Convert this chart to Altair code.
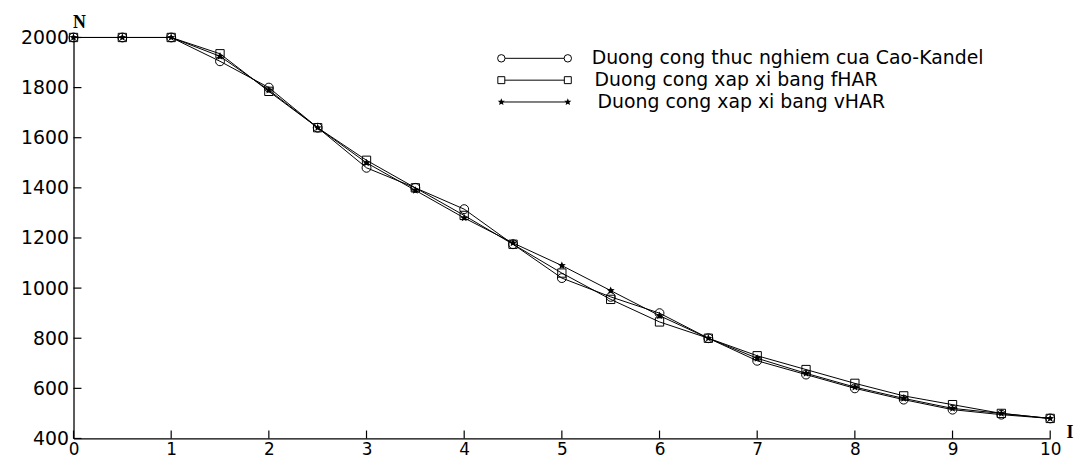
import math
import altair as alt
import pandas as pd

# ---- data ----
I_vals = [0, 0.5, 1, 1.5, 2, 2.5, 3, 3.5, 4, 4.5, 5, 5.5, 6, 6.5, 7, 7.5, 8, 8.5, 9, 9.5, 10]
cao_kandel = [2000, 2000, 2000, 1905, 1800, 1640, 1480, 1400, 1315, 1175, 1040, 965, 900, 800, 710, 655, 600, 555, 515, 495, 480]
fhar = [2000, 2000, 2000, 1935, 1785, 1640, 1510, 1400, 1290, 1175, 1060, 955, 865, 800, 730, 675, 620, 570, 535, 500, 480]
vhar = [2000, 2000, 2000, 1925, 1790, 1640, 1500, 1390, 1280, 1180, 1090, 990, 890, 800, 720, 660, 605, 560, 520, 500, 480]
series_names = [
    "Duong cong thuc nghiem cua Cao-Kandel",
    "Duong cong xap xi bang fHAR",
    "Duong cong xap xi bang vHAR",
]
x_ticks = [0, 1, 2, 3, 4, 5, 6, 7, 8, 9, 10]
y_ticks = [400, 600, 800, 1000, 1200, 1400, 1600, 1800, 2000]

rows = []
for name, vals in zip(series_names, [cao_kandel, fhar, vhar]):
    for i, v in zip(I_vals, vals):
        rows.append({"I": i, "N": v, "series": name})
df = pd.DataFrame(rows)

# ---- style ----
W, H = 984, 404
FONT = "DejaVu Sans"
TICK = 8

# five-point star path
pts = []
for k in range(10):
    r = 1.0 if k % 2 == 0 else 0.45
    a = math.radians(-90 + 36 * k)
    pts.append(f"{r*math.cos(a):.3f},{r*math.sin(a):.3f}")
STAR = "M" + "L".join(pts) + "Z"

xs = alt.Scale(domain=[0, 10], nice=False, zero=False)
ys = alt.Scale(domain=[400, 2000], nice=False, zero=False)

x_axis = alt.Axis(values=x_ticks, tickSize=0, labelFont=FONT, labelFontSize=17,
                  labelColor="black", domainColor="black", domainWidth=1.3,
                  grid=False, title=None, labelPadding=3, labelFlush=False,
                  labelOverlap=False, format="d")
y_axis = alt.Axis(values=y_ticks, tickSize=0, labelFont=FONT, labelFontSize=19,
                  labelColor="black", domainColor="black", domainWidth=1.3,
                  grid=False, title=None, labelPadding=5, labelFlush=False,
                  labelOverlap=False, format="d")

X = lambda f: alt.X(f, scale=xs, axis=x_axis)
Y = lambda f: alt.Y(f, scale=ys, axis=y_axis)

base = alt.Chart(df)

lines = base.mark_line(color="black", strokeWidth=1).encode(
    x=X("I:Q"), y=Y("N:Q"), detail="series:N",
)

marker_specs = [
    (series_names[0], "circle", False, 80),
    (series_names[1], "square", False, 70),
    (series_names[2], STAR, True, 70),
]
marker_layers = []
for name, shape, filled, size in marker_specs:
    if filled:
        mk = base.mark_point(shape=shape, filled=True, color="black", size=size, opacity=1)
    else:
        mk = base.mark_point(shape=shape, filled=False, color="black", size=size,
                             strokeWidth=1, opacity=1)
    marker_layers.append(
        mk.encode(x=X("I:Q"), y=Y("N:Q")).transform_filter(alt.datum.series == name)
    )

# inward ticks
xtick_layer = alt.Chart(pd.DataFrame({"I": x_ticks})).mark_rule(color="black", strokeWidth=1.2).encode(
    x=X("I:Q"), y=alt.value(H), y2=alt.value(H - TICK),
)
ytick_layer = alt.Chart(pd.DataFrame({"N": y_ticks})).mark_rule(color="black", strokeWidth=1.2).encode(
    y=Y("N:Q"), x=alt.value(0), x2=alt.value(TICK),
)

one = pd.DataFrame({"a": [0]})

# axis letters
axis_titles = [
    alt.Chart(one).mark_text(text="N", font="Liberation Serif", fontWeight="bold",
                             fontSize=18, color="black", align="center", baseline="middle").encode(
        x=alt.value(6), y=alt.value(-15)),
    alt.Chart(one).mark_text(text="I", font="Liberation Serif", fontWeight="bold",
                             fontSize=18, color="black", align="center", baseline="middle").encode(
        x=alt.value(1004), y=alt.value(H - 5)),
]

# manual legend (line with a marker at each end)
legend_layers = []
leg_rows = [21, 43, 65]
leg_x1, leg_x2 = 431, 498
text_x = [522, 525, 528]
for (name, shape, filled, size), yy, tx in zip(marker_specs, leg_rows, text_x):
    legend_layers.append(
        alt.Chart(one).mark_rule(color="black", strokeWidth=1).encode(
            x=alt.value(leg_x1), x2=alt.value(leg_x2), y=alt.value(yy))
    )
    for xx in (leg_x1, leg_x2):
        if filled:
            mk = alt.Chart(one).mark_point(shape=shape, filled=True, color="black", size=size * 0.8, opacity=1)
        else:
            mk = alt.Chart(one).mark_point(shape=shape, filled=False, color="black", size=size * 0.7,
                                           strokeWidth=1, opacity=1, fill="white")
        legend_layers.append(mk.encode(x=alt.value(xx), y=alt.value(yy)))
    legend_layers.append(
        alt.Chart(one).mark_text(text=name, font=FONT, fontSize=19, color="black",
                                 align="left", baseline="middle").encode(
            x=alt.value(tx), y=alt.value(yy))
    )

chart = alt.layer(
    lines, *marker_layers, xtick_layer, ytick_layer, *axis_titles, *legend_layers
).properties(
    width=W,
    height=H,
    padding={"left": 66, "top": 28, "right": 27, "bottom": 22},
    autosize=alt.AutoSizeParams(type="none"),
    background="white",
).configure_view(stroke=None)

chart.save("out.html", embed_options={"renderer": "svg", "actions": False})
